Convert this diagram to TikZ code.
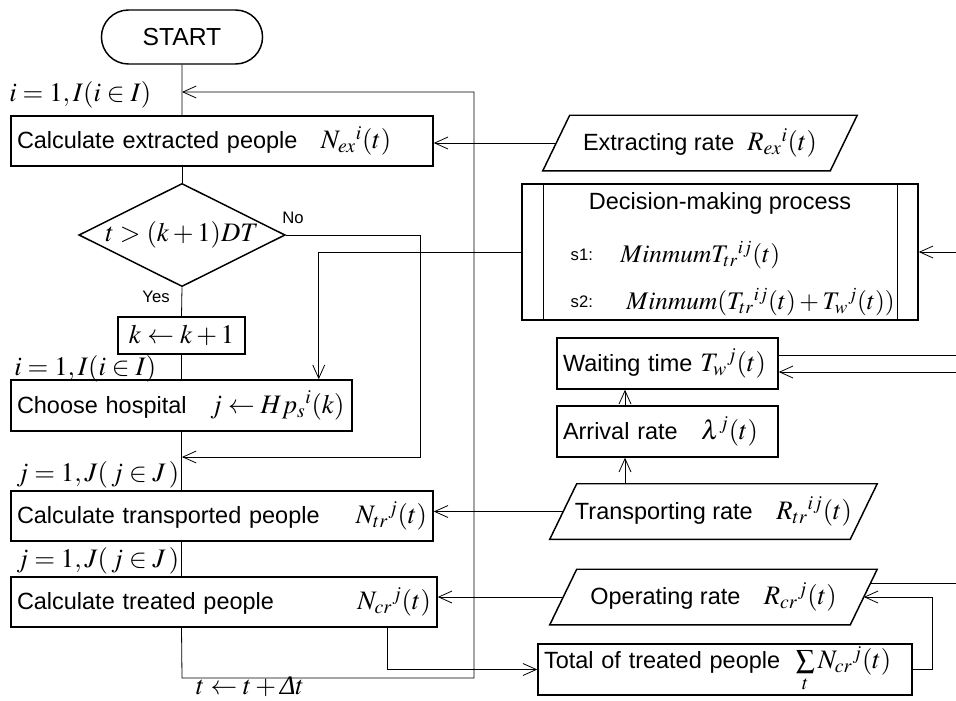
\documentclass[tikz,border=0pt]{standalone}
\usepackage{mathptmx}
\usepackage[no-math]{fontspec}
\setmainfont{Liberation Sans}
\newfontfamily\serifgr{Liberation Serif}
\usetikzlibrary{shapes.geometric,shapes.misc,arrows.meta,calc}

% formulas are set a little larger than the words
\newcommand{\mth}[2][20]{{\fontsize{#1}{23}\selectfont$#2$}}

\tikzset{
  >={Straight Barb[length=10pt,width=9pt]},
  box/.style={draw, line width=1.1pt, inner xsep=4.5pt, inner ysep=0pt,
    minimum height=37.5pt, align=left, text width=#1},
  % outline of the slanted boxes is drawn afterwards
  io/.style={inner sep=0pt, minimum width=#1, minimum height=41.25pt},
  term/.style={draw, line width=1.1pt, rounded rectangle,
    minimum width=127.5pt, minimum height=40.5pt, font=\fontsize{18.5}{22}\selectfont},
  decide/.style={draw, line width=1.1pt, diamond, aspect=2, inner sep=0pt,
    minimum width=153.75pt, minimum height=75.75pt},
  conn/.style={line width=0.6pt},
  lbl/.style={inner sep=0pt},
  note/.style={font=\fontsize{12.5}{14}\selectfont}
}

\begin{document}
\begin{tikzpicture}[x=0.75pt, y=-0.75pt, font=\fontsize{17.6}{20}\selectfont]
\useasboundingbox (0,0) rectangle (956,700);

% main column
\node[term] (start) at (182,37) {START};
\node[box=307.5pt] (calc1) at (222,141) {Calculate extracted people\quad\mth{N_{ex}{}^{i}(t)}};
\node[decide] (dia) at (182,235) {\mth{t>(k+1)DT}};
\node[box=86.25pt, align=center, minimum height=27.75pt] (kk) at (181.5,335.5) {\mth{k\leftarrow k+1}};
\node[box=246.75pt, minimum height=38.25pt] (hosp) at (181.5,405.5) {Choose hospital\quad\mth{j\leftarrow Hp_{s}{}^{i}(k)}};
\node[box=307.5pt] (trans) at (222,516) {Calculate transported people\hfill\mth{N_{tr}{}^{j}(t)}};
\node[box=310.5pt] (treat) at (224,602) {Calculate treated people\hfill\mth{N_{cr}{}^{j}(t)}};

\node[lbl, anchor=west] (li1) at (9,95) {\mth{i=1,I(i\in I)}};
\node[lbl, anchor=west] (li2) at (14,369) {\mth{i=1,I(i\in I)}};
\node[lbl, anchor=west] (lj1) at (16,475) {\mth{j=1,J(\,j\in J\,)}};
\node[lbl, anchor=west] (lj2) at (16,561) {\mth{j=1,J(\,j\in J\,)}};
\node[note] (yes) at (156,297) {Yes};
\node[note] (no) at (293,218) {No};
\node[lbl] (dt) at (250,687) {\mth{t\leftarrow t+\mbox{\serifgr\itshape Δ}t}};

% inputs on the right
\node[io=215.25pt] (ext) at (700,143) {Extracting rate\ \ \mth{R_{ex}{}^{i}(t)}};
\node[draw, line width=1.1pt, minimum width=297pt, minimum height=102pt] (dec) at (720,252) {};
\draw[line width=1.1pt] ([xshift=16.5pt]dec.north west) -- ([xshift=16.5pt]dec.south west);
\draw[line width=1.1pt] ([xshift=-15.75pt]dec.north east) -- ([xshift=-15.75pt]dec.south east);
\node (dectitle) at (720,203) {Decision-making process};
\node[note, anchor=west] (s1) at (566,255) {s1:};
\node[lbl, anchor=west] (s1m) at (620,255) {\mth[19]{Minmum T_{tr}{}^{ij}(t)}};
\node[note, anchor=west] (s2) at (566,302) {s2:};
\node[lbl, anchor=west] (s2m) at (626,302) {\mth[19]{Minmum(T_{tr}{}^{ij}(t)+T_{w}{}^{j}(t))}};

\node[box=156.75pt, minimum height=38.25pt] (wait) at (667.5,363.5) {Waiting time \mth{T_{w}{}^{j}(t)}};
\node[box=156.75pt, minimum height=38.25pt] (arr) at (667.5,431.5) {Arrival rate\quad\mth{\lambda^{j}(t)}};
\node[io=225pt] (tr) at (713.5,511.5) {Transporting rate\quad\mth{R_{tr}{}^{ij}(t)}};
\node[io=225pt] (op) at (713.5,597) {Operating rate\quad\mth{R_{cr}{}^{j}(t)}};
\node[box=271.5pt, minimum height=38.25pt] (total) at (725,669.5) {Total of treated people\ \ \mth{\sum\limits_{t}N_{cr}{}^{j}(t)}};

\foreach \n in {ext,tr,op}
  \draw[line width=1.1pt] ([xshift=10.1pt]\n.north west) -- ([xshift=10.1pt]\n.north east)
    -- ([xshift=-10.1pt]\n.south east) -- ([xshift=-10.1pt]\n.south west) -- cycle;

% free ends at the right border
\coordinate (decin) at (956,252);
\coordinate (wout) at (956,355);
\coordinate (win) at (956,372);
\coordinate (opin) at (956,583);
% loop corners
\coordinate (lt) at (182,92);
\coordinate (lb) at (182,678);
\coordinate (nojoin) at (182,457);
\coordinate (ax) at (625,431.5);

% main line
\draw[conn] (start) -- (start |- calc1.north);
\draw[conn] (start |- calc1.south) -- (dia.north);
\draw[conn] (dia.south) -- (kk.north);
\draw[conn] (kk.south) -- (hosp.north);
\draw[conn] (hosp.south) -- (hosp.south |- trans.north);
\draw[conn] (hosp.south |- trans.south) -- (hosp.south |- treat.north);
\draw[conn,->] (hosp.south |- treat.south) -- (lb) -- ++(292,0) |- (lt);
\draw[conn,->] (dia.east) -- (420,235) |- (nojoin);

% links to the right column
\draw[conn,->] (ext.west) -- (ext.west -| calc1.east);
\draw[conn,->] (dec.west) -| ($(hosp.north east)+(-34,0)$);
\draw[conn,->] (decin) -- (dec.east);
\draw[conn] (wait.east |- wout) -- (wout);
\draw[conn,->] (win) -- (wait.east |- win);
\draw[conn,->] (arr.north -| ax) -- (wait.south -| ax);
\draw[conn,->] (tr.north -| ax) -- (arr.south -| ax);
\draw[conn,->] (tr.west) -- (tr.west -| trans.east);
\draw[conn,->] (op.west) -- (op.west -| treat.east);
\draw[conn] (opin) -- ($(op.east)+(7,-14)$);
\draw[conn,->] ($(treat.south east)+(-50,0)$) |- (total.west);
\draw[conn,->] (total.east) -- ++(20,0) |- (op.east);
\end{tikzpicture}
\end{document}
